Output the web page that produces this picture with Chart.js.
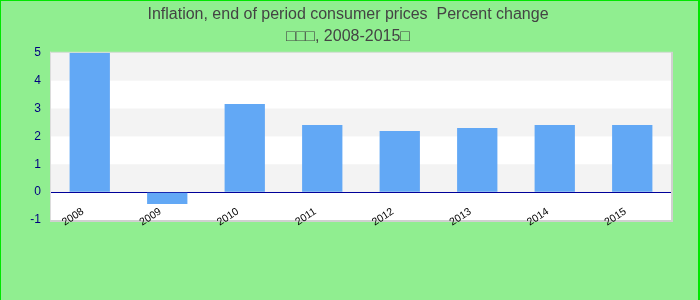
<!DOCTYPE html>
<html>
<head>
<meta charset="utf-8">
<script src="https://cdn.jsdelivr.net/npm/chart.js@4/dist/chart.umd.min.js"></script>
<style>
body { margin: 0; background: #90ee90; }
#wrap { position: relative; width: 700px; height: 300px; }
#frame {
    position: absolute; left: 0; top: 0; width: 700px; height: 300px;
    box-sizing: border-box; pointer-events: none;
    border-left: 1px solid #00e600; border-top: 1px solid #00e600; border-right: 2px solid #00e600;
}
</style>
</head>
<body>
<div id="wrap">
    <canvas id="chart" width="700" height="300"></canvas>
    <div id="frame"></div>
</div>
<script>
// dados do gráfico
const years = ['2008', '2009', '2010', '2011', '2012', '2013', '2014', '2015']
const inflation = [5.0, -0.43, 3.16, 2.41, 2.19, 2.3, 2.41, 2.41]
const yTicks = [-1, 0, 1, 2, 3, 4, 5]
const titleLines = ['Inflation, end of period consumer prices  Percent change', '□□□, 2008-2015□']

const canvas = document.querySelector('canvas#chart')

// fundo verde, área branca com faixas cinzas
const bandsPlugin = {
    id: 'bands',
    beforeDraw(chart) {
        const ctx = chart.ctx
        const area = chart.chartArea
        const y = chart.scales.y
        ctx.save()
        ctx.fillStyle = '#90ee90'
        ctx.fillRect(0, 0, chart.width, chart.height)
        ctx.fillStyle = '#ffffff'
        ctx.fillRect(area.left, area.top, area.right - area.left, area.bottom - area.top)
        ctx.fillStyle = '#f3f3f3'
        for (let i = 0; i < yTicks.length - 1; i++) {
            if (yTicks[i] >= 0 && yTicks[i] % 2 === 0) {
                const top = y.getPixelForValue(yTicks[i + 1])
                const bottom = y.getPixelForValue(yTicks[i])
                ctx.fillRect(area.left, top, area.right - area.left, bottom - top)
            }
        }
        // borda da área do gráfico
        ctx.fillStyle = '#dcdcdc'
        ctx.fillRect(area.left - 1, area.top - 1, area.right - area.left + 1, 1)
        ctx.fillRect(area.left - 1, area.top - 1, 1, area.bottom - area.top + 1)
        ctx.fillStyle = '#d0d0d0'
        ctx.fillRect(area.right, area.top - 1, 2, area.bottom - area.top + 3)
        ctx.fillRect(area.left - 1, area.bottom, area.right - area.left + 3, 2)
        ctx.restore()
    }
}

let grafico = new Chart(canvas, {
    type: 'bar',
    data: {
        labels: years,
        datasets: [{
            data: inflation,
            backgroundColor: '#62a8f5',
            borderWidth: 0,
            barPercentage: 0.52,
            categoryPercentage: 1
        }]
    },
    options: {
        responsive: false,
        animation: false,
        layout: {
            padding: { left: 0, right: 4, top: 0, bottom: 80 }
        },
        plugins: {
            legend: { display: false },
            tooltip: { enabled: false },
            title: {
                display: true,
                text: titleLines,
                color: '#444444',
                font: { family: 'Liberation Sans', size: 16, weight: 'normal', lineHeight: 1.4 },
                padding: { top: 3, bottom: 5 }
            }
        },
        scales: {
            x: {
                position: 'bottom',
                grid: { display: false, drawTicks: false },
                border: { display: false },
                ticks: {
                    autoSkip: false,
                    mirror: true,
                    minRotation: 33,
                    maxRotation: 33,
                    padding: 4,
                    labelOffset: 0,
                    color: '#000000',
                    font: { family: 'Liberation Sans', size: 10.5 }
                },
                afterFit(scale) { scale.height = 0 }
            },
            y: {
                min: -1,
                max: 5,
                grid: {
                    drawTicks: false,
                    color: (c) => c.tick && c.tick.value === 0 ? '#000099' : 'rgba(0,0,0,0)'
                },
                border: { display: false },
                ticks: {
                    stepSize: 1,
                    padding: 10,
                    color: '#000080',
                    font: { family: 'Liberation Sans', size: 12 }
                },
                afterFit(scale) { scale.width = 51 }
            },
            y2: {
                type: 'linear',
                position: 'right',
                grid: { display: false, drawTicks: false },
                border: { display: false },
                ticks: { display: false },
                afterFit(scale) { scale.width = 25 }
            }
        }
    },
    plugins: [bandsPlugin]
})
</script>
</body>
</html>
